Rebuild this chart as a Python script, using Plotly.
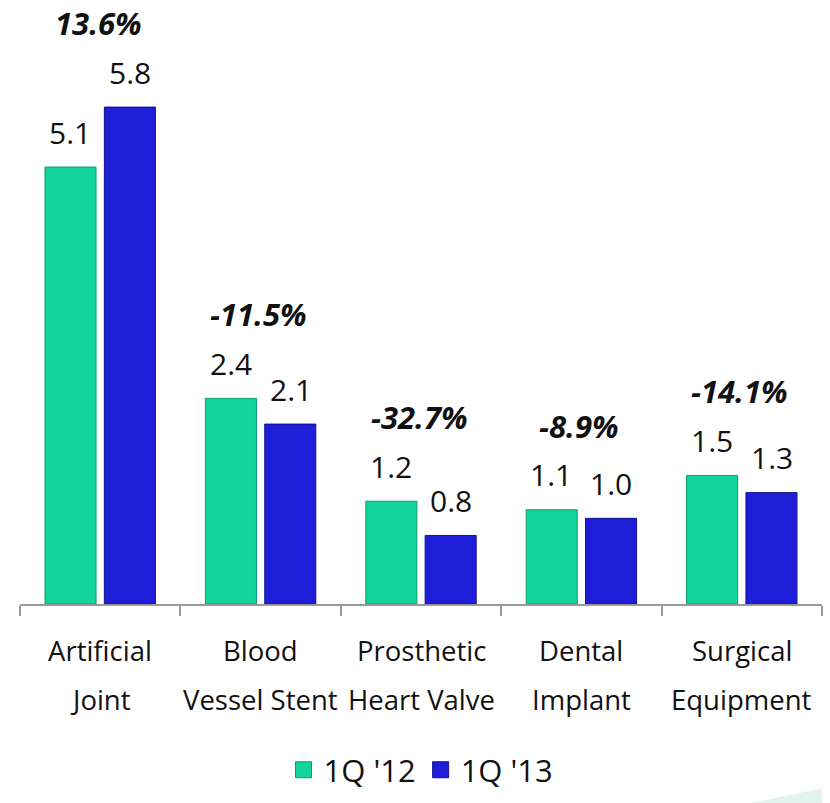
import plotly.graph_objects as go

# ---- data ----
categories = ["Artificial Joint", "Blood Vessel Stent", "Prosthetic Heart Valve",
              "Dental Implant", "Surgical Equipment"]
label_line1 = ["Artificial", "Blood", "Prosthetic", "Dental", "Surgical"]
label_line2 = ["Joint", "Vessel Stent", "Heart Valve", "Implant", "Equipment"]
series_names = ["1Q '12", "1Q '13"]
values_12 = [5.1, 2.4, 1.2, 1.1, 1.5]
values_13 = [5.8, 2.1, 0.8, 1.0, 1.3]
growth_pct = [13.6, -11.5, -32.7, -8.9, -14.1]

GREEN = "#12D49C"
GREEN_LINE = "#0B9E73"
BLUE = "#1E1ED9"
BLUE_LINE = "#12128F"
FONT = "Open Sans"
TXT = "#111111"

fig = go.Figure()
fig.add_trace(go.Bar(x=categories, y=values_12, name=series_names[0],
                     marker=dict(color=GREEN, line=dict(color=GREEN_LINE, width=1)),
                     showlegend=False))
fig.add_trace(go.Bar(x=categories, y=values_13, name=series_names[1],
                     marker=dict(color=BLUE, line=dict(color=BLUE_LINE, width=1)),
                     showlegend=False))
# legend entries with larger square symbols
fig.add_trace(go.Scatter(x=[None], y=[None], mode="markers", name=series_names[0],
                         marker=dict(symbol="square", size=16, color=GREEN,
                                     line=dict(color=GREEN_LINE, width=1))))
fig.add_trace(go.Scatter(x=[None], y=[None], mode="markers", name=series_names[1],
                         marker=dict(symbol="square", size=16, color=BLUE,
                                     line=dict(color=BLUE_LINE, width=1))))

annotations = []
for i, cat in enumerate(categories):
    for v, dx in ((values_12[i], -30), (values_13[i], 30)):
        annotations.append(dict(x=cat, y=v, xref="x", yref="y", text=f"{v:.1f}",
                                showarrow=False, xshift=dx, yshift=35, yanchor="middle",
                                font=dict(family=FONT, size=30, color=TXT)))
    annotations.append(dict(x=cat, y=max(values_12[i], values_13[i]), xref="x", yref="y",
                            text=f"<b><i>{growth_pct[i]:.1f}%</i></b>",
                            showarrow=False, xshift=-2, yshift=84, yanchor="middle",
                            font=dict(family=FONT, size=31, color=TXT)))
    annotations.append(dict(x=cat, y=0, xref="x", yref="y", text=label_line1[i],
                            showarrow=False, yshift=-46, yanchor="middle",
                            font=dict(family=FONT, size=27.5, color=TXT)))
    annotations.append(dict(x=cat, y=0, xref="x", yref="y", text=label_line2[i],
                            showarrow=False, yshift=-95, yanchor="middle",
                            font=dict(family=FONT, size=27.5, color=TXT)))

fig.update_layout(
    width=830, height=803,
    margin=dict(l=20, r=8, t=0, b=199, autoexpand=False),
    paper_bgcolor="white", plot_bgcolor="white",
    barmode="group", bargap=0.26, bargroupgap=0.14,
    font=dict(family=FONT, size=27, color=TXT),
    xaxis=dict(type="category", showticklabels=False, showline=True,
               linecolor="#9A9A9A", linewidth=2, ticks="outside", tickson="boundaries",
               ticklen=10, tickcolor="#9A9A9A", tickwidth=2, showgrid=False, zeroline=False),
    yaxis=dict(visible=False, range=[0, 7.05], showgrid=False, zeroline=False),
    legend=dict(orientation="h", x=0.5, xanchor="center", y=-0.275, yanchor="middle",
                font=dict(family=FONT, size=31, color=TXT), itemwidth=30),
    annotations=annotations,
    shapes=[dict(type="path", xref="paper", yref="paper",
                 path="M 0.91 -0.33 L 1.0 -0.305 L 1.0 -0.33 Z",
                 fillcolor="rgba(160,220,200,0.3)", line=dict(width=0))],
    showlegend=True,
)

fig.write_html("out.html", config={"displayModeBar": False},
               post_script="document.body.style.margin='0';document.body.style.overflow='hidden';")
